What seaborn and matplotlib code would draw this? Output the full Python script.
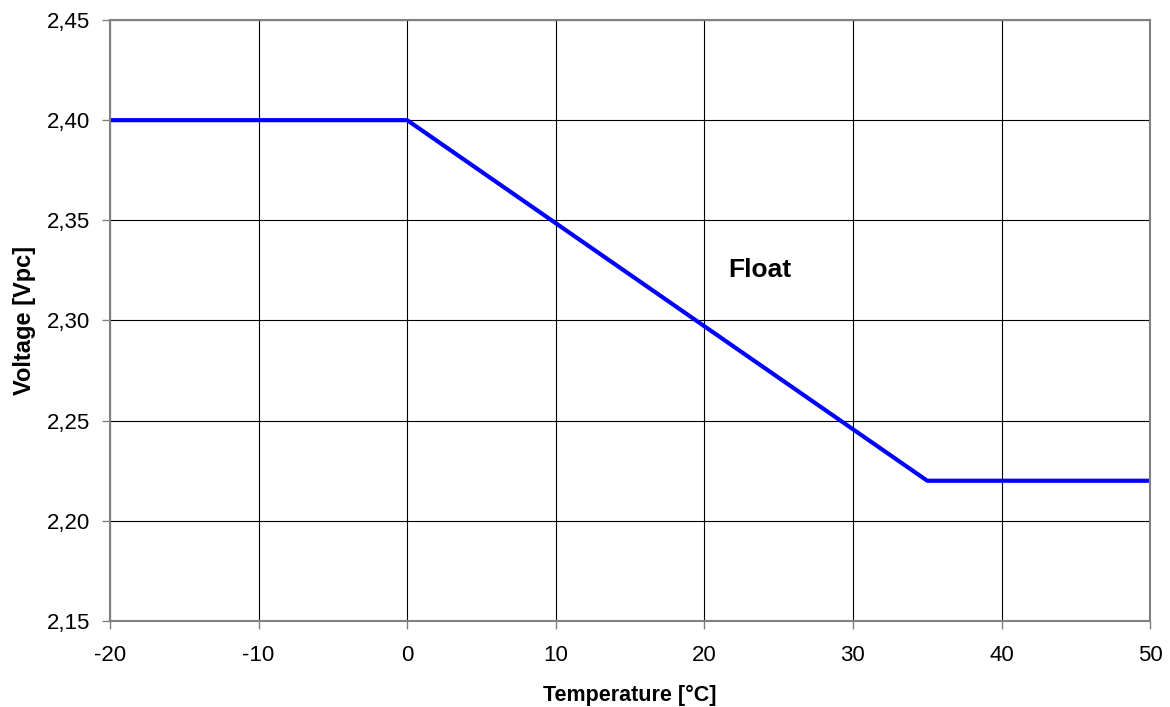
import pandas as pd
import matplotlib.pyplot as plt
import seaborn as sns
from matplotlib.ticker import FuncFormatter

# float voltage vs temperature
temperature = [-20, 0, 35, 50]
voltage = [2.40, 2.40, 2.22, 2.22]
x_ticks = [-20, -10, 0, 10, 20, 30, 40, 50]
y_ticks = [2.15, 2.20, 2.25, 2.30, 2.35, 2.40, 2.45]

df = pd.DataFrame({'temperature': temperature, 'voltage': voltage})

sns.set_style("white")
plt.rcParams['font.family'] = ['Liberation Sans', 'DejaVu Sans']
plt.rcParams['axes.unicode_minus'] = False
plt.rcParams['text.color'] = 'black'
plt.rcParams['axes.labelcolor'] = 'black'
plt.rcParams['xtick.color'] = 'black'
plt.rcParams['ytick.color'] = 'black'

fig = plt.figure(figsize=(11.7, 7.07), dpi=100)
ax = fig.add_axes([0.094, 0.1217, 0.889, 0.85])

sns.lineplot(data=df, x='temperature', y='voltage', color='#0000FF', linewidth=3, ax=ax)

ax.set_xlim(-20, 50)
ax.set_ylim(2.15, 2.45)
ax.set_xticks(x_ticks)
ax.set_yticks(y_ticks)
ax.yaxis.set_major_formatter(FuncFormatter(lambda v, p: f"{v:.2f}".replace('.', ',')))
ax.grid(True, color='black', linewidth=0.8)
ax.set_axisbelow(True)
for s in ax.spines.values():
    s.set_color('#808080')
    s.set_linewidth(1.5)
ax.tick_params(axis='both', direction='out', length=6, width=1, color='#808080',
               labelcolor='black', labelsize=16, bottom=True, left=True)
ax.tick_params(axis='x', pad=11)
ax.tick_params(axis='y', pad=8)

ax.set_xlabel("Temperature [°C]", fontsize=15.5, fontweight='bold', labelpad=14)
ax.set_ylabel("Voltage [Vpc]", fontsize=17, fontweight='bold', labelpad=8)
ax.text(21.6, 2.325, "Float", fontsize=19, fontweight='bold', va='center', ha='left')

fig.savefig('out.png', dpi=100)
